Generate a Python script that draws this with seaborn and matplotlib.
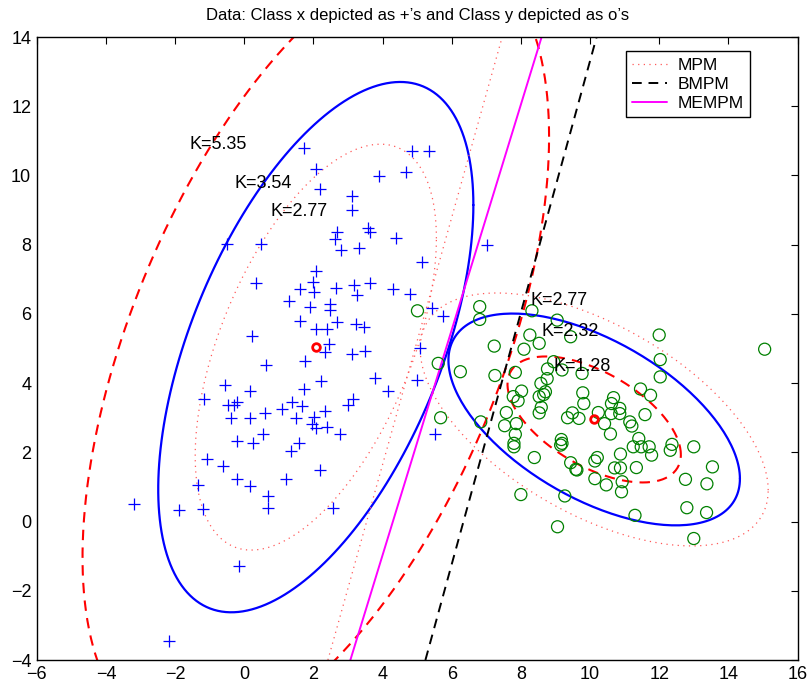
import numpy as np
import matplotlib
matplotlib.use("Agg")
import matplotlib.pyplot as plt
import seaborn as sns

# --- data ---
# class x (+)
x1_x = [1.74, 4.84, 5.34, 2.08, 4.69, 3.90, 2.18, 3.12, 3.12, 2.69, 3.58, 3.63, 2.62, 4.40,
        -0.51, 0.49, 2.81, 3.32, 7.02, 5.13, 2.08, 2.00, 0.35, 1.62, 2.02, 2.66, 3.18, 3.65,
        3.26, 4.30, 4.80, 1.29, 1.91, 2.48, 2.48, 5.44, 5.75, 1.62, 2.69, 3.22, 3.47, 2.07,
        2.40, 0.23, 5.08, 2.44, 3.50, 3.11, 2.33, 1.76, 0.62, 2.22, 3.78, 5.01, 4.15, -0.57,
        0.17, 1.73, -1.17, -0.48, -0.29, -0.21, 0.59, 1.09, 1.37, 1.68, 2.34, 3.14, 3.01,
        -0.38, 0.17, 1.49, 2.01, 1.95, 2.09, 2.38, 2.77, 5.52, 0.54, -0.21, 0.25, 1.58, 1.35,
        -1.07, -0.62, -0.22, 0.16, 1.21, 2.20, -1.35, 0.68, 0.68, -3.18, -1.90, -1.20, 2.58,
        -0.16, -2.18]
x1_y = [10.80, 10.71, 10.71, 10.20, 10.11, 9.98, 9.61, 9.40, 9.00, 8.37, 8.47, 8.37, 8.15, 8.18,
        8.01, 8.02, 7.84, 7.91, 8.00, 7.51, 7.24, 6.91, 6.90, 6.71, 6.64, 6.75, 6.83, 6.88,
        6.56, 6.71, 6.57, 6.38, 6.20, 6.30, 6.11, 6.18, 5.95, 5.80, 5.77, 5.70, 5.63, 5.56,
        5.56, 5.37, 5.02, 5.14, 4.94, 4.84, 4.90, 4.64, 4.51, 4.05, 4.15, 4.10, 3.78, 3.96,
        3.77, 3.82, 3.53, 3.38, 3.36, 3.46, 3.14, 3.26, 3.46, 3.35, 3.20, 3.53, 3.36,
        2.98, 3.00, 2.98, 3.01, 2.83, 2.71, 2.73, 2.54, 2.52, 2.52, 2.32, 2.28, 2.28, 2.04,
        1.81, 1.60, 1.23, 1.03, 1.22, 1.48, 1.06, 0.75, 0.40, 0.52, 0.33, 0.35, 0.39,
        -1.27, -3.46]

# class y (o)
x2_x = [5.01, 6.81, 6.81, 8.32, 9.05, 8.26, 8.53, 9.44, 7.23, 8.09, 12.00, 15.05, 5.61, 6.25,
        7.25, 7.84, 8.95, 8.77, 9.19, 9.77, 12.03, 12.03, 8.58, 8.76, 8.02, 7.92, 7.78, 8.53,
        8.66, 8.71, 8.59, 8.53, 9.79, 9.82, 7.58, 7.87, 7.53, 5.68, 6.84, 7.84, 7.80, 7.80,
        8.39, 9.17, 9.19, 9.15, 9.35, 9.49, 9.68, 10.24, 10.42, 10.59, 10.68, 10.62, 10.86,
        10.61, 10.86, 11.15, 11.21, 11.41, 11.25, 11.48, 11.71, 11.78, 11.59, 11.46, 11.75,
        12.37, 12.32, 13.00, 10.88, 10.14, 10.21, 9.44, 9.59, 9.62, 10.71, 10.88, 11.34,
        10.14, 10.47, 10.93, 10.91, 12.76, 13.54, 13.38, 8.00, 9.27, 12.80, 13.37, 11.30,
        9.06, 13.00]
x2_y = [6.09, 6.21, 5.84, 6.09, 5.82, 5.39, 5.15, 5.34, 5.07, 4.98, 5.39, 4.98, 4.57, 4.33,
        4.22, 4.31, 4.62, 4.41, 4.38, 4.28, 4.68, 4.18, 3.99, 4.13, 3.77, 3.49, 3.61, 3.61,
        3.67, 3.75, 3.30, 3.14, 3.72, 3.41, 3.15, 2.83, 2.77, 3.00, 2.88, 2.52, 2.26, 2.16,
        1.85, 2.37, 2.26, 2.21, 3.00, 3.14, 2.98, 3.15, 2.83, 2.53, 3.58, 3.41, 3.27,
        3.12, 3.12, 2.88, 2.76, 2.40, 2.16, 2.16, 2.16, 1.92, 3.09, 3.83, 3.65,
        2.23, 2.06, 2.16, 1.95, 1.75, 1.85, 1.70, 1.51, 1.49, 1.55, 1.55, 1.56,
        1.24, 1.06, 1.15, 0.86, 1.22, 1.58, 1.09, 0.78, 0.74, 0.40, 0.26, 0.18,
        -0.15, -0.49]

# class means (red o) and covariances used for the ellipses
mean_x = [2.07, 5.04]
mean_y = [10.12, 2.95]
cov_x = [[1.62, 1.46], [1.46, 4.58]]
cov_y = [[3.30, -1.34], [-1.34, 1.74]]

# ellipse sizes as drawn: MPM (dotted), MEMPM (blue), BMPM (red dashed)
k_mpm = [2.74, 2.77]
k_mempm = [3.58, 2.32]
k_bmpm = [5.30, 1.38]
k_labels = ["K=5.35", "K=3.54", "K=2.77", "K=2.77", "K=2.32", "K=1.28"]
k_label_x = [-1.57, -0.29, 0.76, 8.27, 8.61, 8.94]
k_label_y = [10.9, 9.78, 8.97, 6.40, 5.50, 4.49]

# decision lines: x where they cross y=-4 and y=14
line_names = ["MPM", "BMPM", "MEMPM"]
line_x_bottom = [2.42, 5.24, 3.07]
line_x_top = [7.46, 10.19, 8.60]
line_y = [-4, 14]


def ellipse(m, S, k, n=200):
    t = np.linspace(0, 2 * np.pi, n)
    L = np.linalg.cholesky(np.array(S))
    pts = k * L @ np.vstack([np.cos(t), np.sin(t)])
    return pts[0] + m[0], pts[1] + m[1]


sns.set_style("white")
plt.rcParams['font.family'] = ['Liberation Sans', 'DejaVu Sans']
plt.rcParams['text.color'] = 'black'
plt.rcParams['xtick.color'] = 'black'
plt.rcParams['ytick.color'] = 'black'

fig = plt.figure(figsize=(8.09, 6.87), dpi=100)
ax = fig.add_axes([0.0454, 0.0393, 0.9404, 0.9068])

mpm_style = dict(color=(1, 0.35, 0.35), lw=0.9, ls=(0, (1, 3.5)))
bmpm_ell = dict(color='red', lw=1.5, ls=(0, (5, 3.5)))
blue_style = dict(color='blue', lw=1.6)

for m, S, i in [(mean_x, cov_x, 0), (mean_y, cov_y, 1)]:
    ex, ey = ellipse(m, S, k_mpm[i])
    ax.plot(ex, ey, **mpm_style)
    ex, ey = ellipse(m, S, k_bmpm[i])
    ax.plot(ex, ey, **bmpm_ell)
    ex, ey = ellipse(m, S, k_mempm[i])
    ax.plot(ex, ey, **blue_style)

sns.scatterplot(x=x1_x, y=x1_y, marker='+', color='blue', s=70, linewidth=0.9, ax=ax, zorder=3)
sns.scatterplot(x=x2_x, y=x2_y, marker='o', facecolor='none', edgecolor=(0, 0.5, 0),
                s=75, linewidth=0.9, ax=ax, zorder=3)
ax.plot([mean_x[0], mean_y[0]], [mean_x[1], mean_y[1]], 'o', ls='none', mfc='none',
        mec='red', ms=5.5, mew=2, zorder=4)

line_styles = [dict(color=(1, 0.35, 0.35), lw=0.9, ls=(0, (1, 3.5))),
               dict(color='black', lw=1.4, ls=(0, (5, 3.5))),
               dict(color='magenta', lw=1.4)]
for name, xb, xt, st in zip(line_names, line_x_bottom, line_x_top, line_styles):
    ax.plot([xb, xt], line_y, label=name, **st)

for lab, tx, ty in zip(k_labels, k_label_x, k_label_y):
    ax.text(tx, ty, lab, fontsize=13, ha='left', va='center')

ax.set_xlim(-6, 16)
ax.set_ylim(-4, 14)
ax.set_xticks(range(-6, 17, 2))
ax.set_yticks(range(-4, 15, 2))
ax.tick_params(direction='in', top=True, right=True, length=5, width=0.8,
               labelsize=13, pad=4, colors='black')
for sp in ax.spines.values():
    sp.set_color('black')
    sp.set_linewidth(1.0)
ax.set_title("Data: Class x depicted as +\u2019s and Class y depicted as o\u2019s",
             fontsize=12, pad=12)

leg = ax.legend(loc='upper right', bbox_to_anchor=(0.937, 0.977), fontsize=12.5,
                fancybox=False, framealpha=1, edgecolor='black', handlelength=2.0,
                handletextpad=0.6, labelspacing=0.24, borderpad=0.35, borderaxespad=0)
leg.get_frame().set_linewidth(1.0)

fig.savefig("out.png", dpi=100)
